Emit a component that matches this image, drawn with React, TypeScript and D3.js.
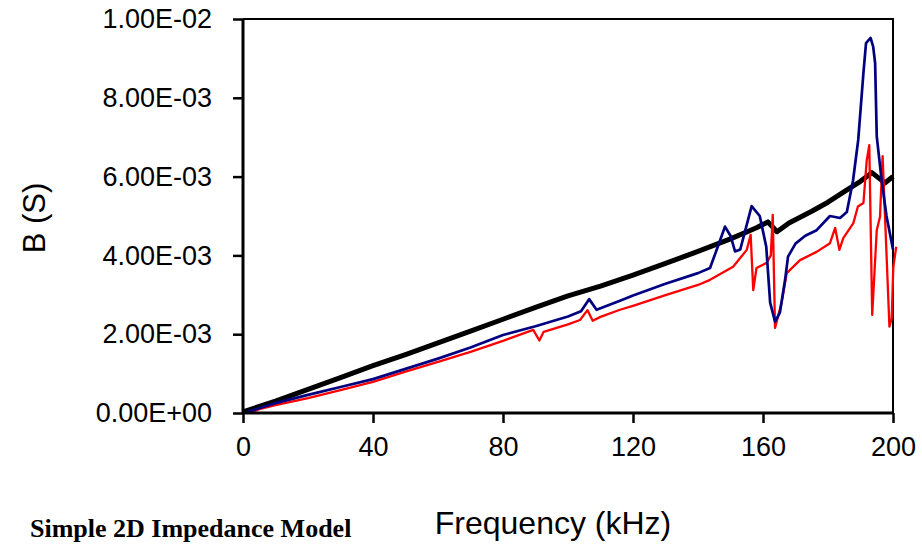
import { useEffect, useRef } from 'react';
import * as d3 from 'd3';

// frequency in kHz, B in mS (scaled to S when drawn)
const blackFreq = [0, 10, 20, 30, 40, 50, 60, 70, 80, 90, 100, 110, 120, 130, 140, 150, 158, 161.5, 164.3, 168, 175, 180, 185, 190, 193.5, 197.5, 200];
const blackB = [0.03, 0.3, 0.6, 0.9, 1.2, 1.48, 1.78, 2.08, 2.38, 2.68, 2.97, 3.22, 3.5, 3.8, 4.1, 4.42, 4.7, 4.85, 4.6, 4.82, 5.12, 5.35, 5.62, 5.88, 6.1, 5.84, 6.0];

const blueFreq = [1, 5, 10, 20, 30, 40, 50, 60, 70, 80, 90, 100, 104, 106.5, 108.8, 112, 116, 120, 130, 140, 143.7, 146, 148.3, 150, 151.4, 153, 156.5, 159, 161, 162.2, 163.7, 165.2, 166.8, 167.7, 170, 173, 176.5, 180.6, 183.7, 185.8, 187.7, 189.3, 190.9, 191.7, 193.1, 193.9, 194.5, 195, 196.5, 198, 200];
const blueB = [0.02, 0.12, 0.25, 0.46, 0.66, 0.86, 1.12, 1.38, 1.66, 1.98, 2.2, 2.45, 2.58, 2.89, 2.62, 2.72, 2.85, 2.98, 3.28, 3.55, 3.68, 4.2, 4.73, 4.5, 4.1, 4.15, 5.25, 5.0, 4.22, 2.8, 2.32, 2.55, 3.38, 3.97, 4.3, 4.5, 4.64, 5.0, 4.95, 5.1, 5.9, 6.93, 8.63, 9.39, 9.52, 9.3, 8.88, 7.02, 5.91, 5.0, 4.15];

const redFreq = [2, 5, 10, 20, 30, 40, 50, 60, 70, 80, 89.3, 91.2, 92.5, 100, 103.7, 106, 107.6, 110, 116, 120, 130, 140, 143.7, 150.8, 155, 156.2, 157, 158, 161.1, 162.4, 163, 163.7, 165.7, 167.3, 171.4, 176.5, 180.6, 182.2, 183.5, 184.7, 187.8, 189.2, 190.9, 191.9, 192.7, 193.6, 195, 196, 196.8, 198.9, 199.6, 200.1, 201];
const redB = [0.0, 0.1, 0.2, 0.38, 0.58, 0.79, 1.05, 1.3, 1.55, 1.83, 2.11, 1.84, 2.06, 2.25, 2.36, 2.61, 2.34, 2.44, 2.62, 2.72, 2.99, 3.25, 3.38, 3.71, 4.14, 4.52, 3.12, 3.68, 3.81, 4.0, 5.03, 2.16, 2.79, 3.55, 3.88, 4.09, 4.31, 4.7, 4.14, 4.44, 4.82, 5.24, 5.33, 6.4, 6.8, 2.49, 4.64, 4.98, 6.52, 2.19, 2.4, 3.71, 4.22];

const xTicks = [0, 40, 80, 120, 160, 200];
const yTicks = [0, 0.002, 0.004, 0.006, 0.008, 0.01];

const fmtE = (v: number) => {
	const [m, e] = v.toExponential(2).split('e');
	const n = parseInt(e, 10);
	return `${m}E${n < 0 ? '-' : '+'}${String(Math.abs(n)).padStart(2, '0')}`;
};

const App = () => {
	const ref = useRef<SVGSVGElement>(null);

	useEffect(() => {
		const left = 243,
			right = 893,
			top = 19,
			bottom = 413;

		const svg = d3.select(ref.current);
		svg.selectAll('*').remove();

		const x = d3.scaleLinear().domain([0, 200]).range([left, right]);
		const y = d3.scaleLinear().domain([0, 0.01]).range([bottom, top]);

		// frame (top + right)
		svg
			.append('path')
			.attr('d', `M${left},${top}H${right}V${bottom}`)
			.attr('fill', 'none')
			.attr('stroke', '#000')
			.attr('stroke-width', 2);

		const line = d3
			.line<[number, number]>()
			.x((d) => x(d[0]))
			.y((d) => y(d[1] / 1000));

		const series = [
			{ f: blackFreq, b: blackB, color: '#000', w: 5 },
			{ f: redFreq, b: redB, color: '#ff0000', w: 2.3 },
			{ f: blueFreq, b: blueB, color: '#000080', w: 2.7 },
		];
		series.forEach((s) => {
			svg
				.append('path')
				.datum(s.f.map((f, i) => [f, s.b[i]] as [number, number]))
				.attr('fill', 'none')
				.attr('stroke', s.color)
				.attr('stroke-width', s.w)
				.attr('stroke-linejoin', 'round')
				.attr('d', line);
		});

		const yAxis = svg
			.append('g')
			.attr('transform', `translate(${left},0)`)
			.call(d3.axisLeft(y).tickValues(yTicks).tickFormat((d) => fmtE(+d)).tickSize(10).tickPadding(21));
		const xAxis = svg
			.append('g')
			.attr('transform', `translate(0,${bottom})`)
			.call(d3.axisBottom(x).tickValues(xTicks).tickFormat((d) => String(d)).tickSize(10).tickPadding(14));

		[yAxis, xAxis].forEach((g) => {
			g.select('.domain').attr('stroke-width', 3).attr('d', g === yAxis ? `M0,${top}V${bottom}` : `M${left},0H${right}`);
			g.selectAll('.tick line').attr('stroke-width', 2.5);
			g.selectAll('text')
				.attr('font-family', 'Liberation Sans, Arial, sans-serif')
				.attr('font-size', 27)
				.attr('fill', '#000');
		});

		svg
			.append('text')
			.attr('transform', `translate(45,218) rotate(-90)`)
			.attr('text-anchor', 'middle')
			.attr('font-family', 'Liberation Sans, Arial, sans-serif')
			.attr('font-size', 31)
			.text('B (S)');

		svg
			.append('text')
			.attr('x', 553)
			.attr('y', 534)
			.attr('text-anchor', 'middle')
			.attr('font-family', 'Liberation Sans, Arial, sans-serif')
			.attr('font-size', 32)
			.text('Frequency (kHz)');

		svg
			.append('text')
			.attr('x', 30)
			.attr('y', 537)
			.attr('font-family', 'Liberation Serif, Times New Roman, serif')
			.attr('font-weight', 'bold')
			.attr('font-size', 26)
			.text('Simple 2D Impedance Model');
	}, []);

	return (
		<svg
			ref={ref}
			width={922}
			height={544}
			style={{ position: 'absolute', left: 0, top: 0, background: '#fff' }}
		/>
	);
};

export default App;
